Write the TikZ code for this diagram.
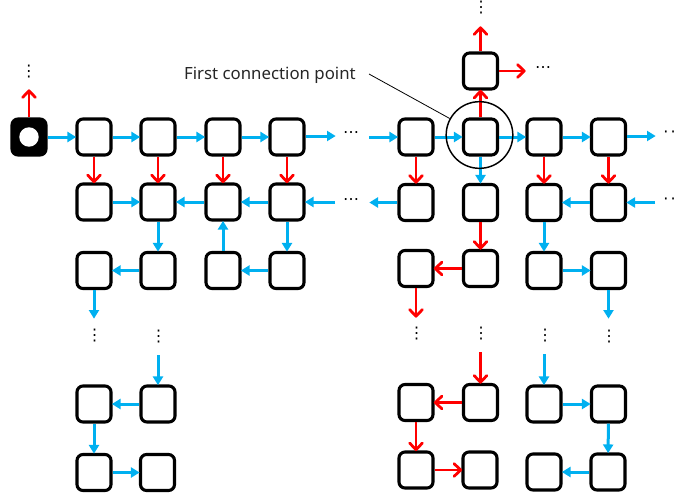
\documentclass[tikz,border=0pt]{standalone}
\usepackage{fontspec}
\setmainfont{Noto Sans}
\newfontfamily\dotfont{DejaVu Sans}
\usetikzlibrary{arrows.meta}
\definecolor{linkblue}{HTML}{00B0F0}
\definecolor{linkred}{HTML}{FF0000}
\tikzset{
  cell/.style={draw=black,line width=2.3pt,rounded corners=4.5pt,fill=white,minimum width=25.5pt,minimum height=27pt,inner sep=0pt},
  startcell/.style={cell,fill=black},
  hole/.style={circle,fill=white,minimum size=14.6pt,inner sep=0pt},
  bl/.style={draw=linkblue,line width=2.25pt,-{Triangle[length=6.5pt,width=7.5pt]},shorten >=-0.5pt},
  rd/.style={draw=linkred,line width=2.1pt,-{Straight Barb[length=5pt,width=9.5pt,round]},shorten >=-0.5pt},
  vd/.style={font=\dotfont\fontsize{12}{12}\selectfont,inner sep=0pt},
  lbl/.style={font=\fontsize{12.6}{14}\selectfont,inner sep=0pt,text=black!85},
  ring/.style={draw=black,line width=1.1pt,circle,minimum size=50pt,inner sep=0pt},
  lead/.style={draw=black,line width=0.6pt}
}
\begin{document}
\begin{tikzpicture}[x=0.75pt,y=-0.75pt]
\path[use as bounding box] (0,0) rectangle (675,497);
\clip (0,0) rectangle (675,497);
% left block
\node[startcell] (s) at (29,137) {};
\node[hole] (sh) at (29,137) {};
\node[cell] (a1) at (94,137) {};
\node[cell] (a2) at (158,137) {};
\node[cell] (a3) at (223,137) {};
\node[cell] (a4) at (287,137) {};
\node[cell] (b1) at (94,202) {};
\node[cell] (b2) at (158,202) {};
\node[cell] (b3) at (223,202) {};
\node[cell] (b4) at (287,202) {};
\node[cell] (c1) at (94,270.5) {};
\node[cell] (c2) at (158,270.5) {};
\node[cell] (c3) at (223,270.5) {};
\node[cell] (c4) at (287,270.5) {};
\node[cell] (d1) at (94,404) {};
\node[cell] (d2) at (158,404) {};
\node[cell] (e1) at (94,472.5) {};
\node[cell] (e2) at (157.5,472.5) {};
% right block
\node[cell] (T) at (480.5,71) {};
\node[cell] (A1) at (416,137) {};
\node[cell] (A2) at (480.5,137) {};
\node[cell] (A3) at (544,137) {};
\node[cell] (A4) at (608.5,137) {};
\node[cell] (B1) at (416,202.5) {};
\node[cell] (B2) at (480.5,202.5) {};
\node[cell] (B3) at (544,202.5) {};
\node[cell] (B4) at (608.5,202.5) {};
\node[cell] (C1) at (416,268.5) {};
\node[cell] (C2) at (480.5,268.5) {};
\node[cell] (C3) at (544,270.5) {};
\node[cell] (C4) at (608.5,270.5) {};
\node[cell] (D1) at (416,402.5) {};
\node[cell] (D2) at (480.5,402.5) {};
\node[cell] (D3) at (544,404) {};
\node[cell] (D4) at (608.5,404) {};
\node[cell] (E1) at (416,470) {};
\node[cell] (E2) at (480,470) {};
\node[cell] (E3) at (544,472) {};
\node[cell] (E4) at (608,472) {};
% ellipsis texts
\node[vd] (v0) at (29,72) {⋮};
\node[vd] (v1) at (94.5,336) {⋮};
\node[vd] (v2) at (158.5,337) {⋮};
\node[vd] (v3) at (416.5,334) {⋮};
\node[vd] (v4) at (481,334) {⋮};
\node[vd] (v5) at (545,336) {⋮};
\node[vd] (v6) at (609,337) {⋮};
\node[vd] (v7) at (481,7.5) {⋮};
\node[vd] (h1) at (351,135) {⋯};
\node[vd] (h2) at (351,201.5) {⋯};
\node[vd] (h3) at (543,70) {⋯};
\node[vd] (h4) at (669.5,134.5) {·\kern1.6pt·};
\node[vd] (h5) at (669.5,201) {·\kern1.6pt·};
% free ends
\coordinate (f1) at (29,90);
\coordinate (f2) at (335,136);
\coordinate (f3) at (335,202);
\coordinate (f4) at (94,318);
\coordinate (f5) at (158,355);
\coordinate (g1) at (369,137);
\coordinate (g2) at (655,136);
\coordinate (g3) at (370,202.5);
\coordinate (g4) at (655,202.5);
\coordinate (g5) at (416,317);
\coordinate (g6) at (608.5,318);
\coordinate (g7) at (480.5,352);
\coordinate (g8) at (544,354);
\coordinate (g9) at (480.5,27);
\coordinate (g10) at (525,71);
% blue links, left
\draw[bl] (s) -- (a1);
\draw[bl] (a1) -- (a2);
\draw[bl] (a2) -- (a3);
\draw[bl] (a3) -- (a4);
\draw[bl] (a4.east |- f2) -- (f2);
\draw[bl] (b1) -- (b2);
\draw[bl] (b3) -- (b2);
\draw[bl] (b4) -- (b3);
\draw[bl] (f3) -- (b4);
\draw[bl] (b2) -- (c2);
\draw[bl] (c3) -- (b3);
\draw[bl] (b4) -- (c4);
\draw[bl] (c2) -- (c1);
\draw[bl] (c4) -- (c3);
\draw[bl] (c1) -- (f4);
\draw[bl] (f5) -- (d2);
\draw[bl] (d2) -- (d1);
\draw[bl] (d1) -- (e1);
\draw[bl] (e1) -- (e2);
% red links, left
\draw[rd] (s) -- (f1);
\draw[rd] (a1) -- (b1);
\draw[rd] (a2) -- (b2);
\draw[rd] (a3) -- (b3);
\draw[rd] (a4) -- (b4);
% blue links, right
\draw[bl] (g1) -- (A1);
\draw[bl] (A1) -- (A2);
\draw[bl] (A2) -- (A3);
\draw[bl] (A3) -- (A4);
\draw[bl] (A4.east |- g2) -- (g2);
\draw[bl] (A2) -- (B2);
\draw[bl] (B1) -- (g3);
\draw[bl] (B4) -- (B3);
\draw[bl] (g4) -- (B4);
\draw[bl] (B3) -- (C3);
\draw[bl] (C3) -- (C4);
\draw[bl] (C4) -- (g6);
\draw[bl] (g8) -- (D3);
\draw[bl] (D3) -- (D4);
\draw[bl] (D4) -- (E4);
\draw[bl] (E4) -- (E3);
% red links, right
\draw[rd] (A1) -- (B1);
\draw[rd] (A3) -- (B3);
\draw[rd] (A4) -- (B4);
\draw[rd] (A2) -- (T);
\draw[rd] (T) -- (g9);
\draw[rd] (T) -- (g10);
\draw[rd] (B2) -- (C2);
\draw[rd] (C2) -- (C1);
\draw[rd] (C1) -- (g5);
\draw[rd] (g7) -- (D2);
\draw[rd] (D2) -- (D1);
\draw[rd] (D1) -- (E1);
\draw[rd] (E1) -- (E2);
% callout
\node[ring] (R) at (479.5,135) {};
\node[lbl,anchor=east] (L) at (356,75.5) {First connection point};
\coordinate (la) at (369,74);
\draw[lead] (la) -- (R.151);
\end{tikzpicture}
\end{document}
